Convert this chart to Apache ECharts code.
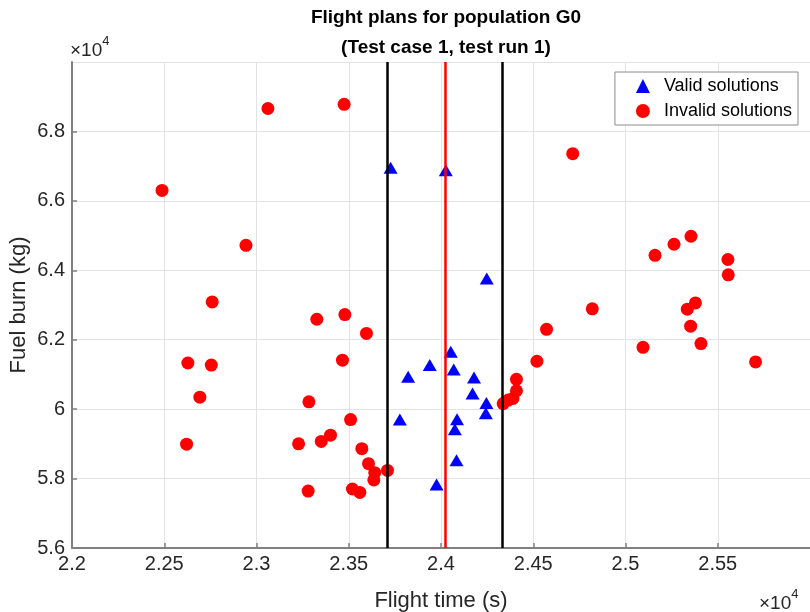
<!DOCTYPE html>
<html lang="en">
<head>
  <meta charset="UTF-8">
  <title>Flight plans for population G0</title>
  <style>
    html, body { margin: 0; padding: 0; background: #fff; }
  </style>
</head>
<body>
  <div id="main" style="width:810px;height:612px"></div>

  <script src="https://cdn.jsdelivr.net/npm/echarts@6/dist/echarts.min.js"></script>

  <script>
    // flight time (s), fuel burn (kg)
    var validTime = [23727, 24026, 24248, 24053, 23939, 24069, 23822, 24179, 24171, 24246, 24243, 23777, 24087, 24075, 24084, 23976]
    var validFuel = [66955, 66880, 63760, 61650, 61270, 61140, 60930, 60910, 60450, 60180, 59880, 59700, 59710, 59420, 58530, 57830]

    var invalidTime = [22488, 23062, 23475, 22943, 22760, 23479, 23327, 23596, 22628, 22755, 23466, 22693, 23284, 22621, 23510, 23228,
      23351, 23401, 23571, 23607, 23641, 23636, 23280, 23520, 23560, 23710, 24714, 25160, 25263, 25355, 25555, 25557,
      24820, 24572, 24520, 24409, 24409, 24390, 24364, 24337, 25335, 25379, 25353, 25095, 25409, 25705]
    var invalidFuel = [66300, 68660, 68780, 64720, 63090, 62725, 62590, 62180, 61330, 61270, 61410, 60345, 60210, 58990, 59700, 59000,
      59070, 59250, 58860, 58430, 58170, 57960, 57640, 57700, 57600, 58236, 67360, 64430, 64750, 64980, 64310, 63870,
      62890, 62300, 61380, 60860, 60530, 60310, 60260, 60160, 62880, 63060, 62390, 61780, 61890, 61360]

    // vertical reference lines (flight time, s)
    var boundLines = [23710, 24333]
    var centreLine = [24024]

    var xTicks = { min: 22000, max: 26000, interval: 500 }
    var yTicks = { min: 56000, max: 70000, interval: 2000 }

    function pairs(xs, ys) {
      return xs.map(function (x, i) { return [x, ys[i]] })
    }
    function scaled(v) {
      return String(parseFloat((v / 1e4).toFixed(2)))
    }

    var axisGray = '#808080'
    var textGray = '#262626'
    var font = 'Liberation Sans'

    var myChart = echarts.init(document.getElementById('main'))

    var expLabel = {
      text: '{a|×10}{b|4}',
      rich: {
        a: { fontFamily: font, fontSize: 19, fill: textGray, padding: [6, 0, 0, 0] },
        b: { fontFamily: font, fontSize: 13, fill: textGray, verticalAlign: 'top' }
      }
    }

    var options = {
      animation: false,
      backgroundColor: '#fff',
      title: {
        text: 'Flight plans for population G0\n(Test case 1, test run 1)',
        left: 441,
        top: -2,
        textAlign: 'center',
        textStyle: {
          fontFamily: font,
          fontSize: 19,
          fontWeight: 'bold',
          color: '#000',
          lineHeight: 30
        }
      },
      legend: {
        orient: 'vertical',
        right: 12,
        top: 72,
        data: ['Valid solutions', 'Invalid solutions'],
        backgroundColor: '#fff',
        borderColor: '#8c8c8c',
        borderWidth: 1,
        borderRadius: 0,
        padding: [5, 6, 5, 21],
        itemGap: 7,
        itemWidth: 14,
        itemHeight: 14,
        textStyle: { fontFamily: font, fontSize: 18, color: '#000', padding: [0, 0, 0, 9] }
      },
      grid: { left: 72, right: 0, top: 62, bottom: 64, outerBoundsMode: 'none', containLabel: false },
      xAxis: {
        type: 'value',
        min: xTicks.min,
        max: xTicks.max,
        interval: xTicks.interval,
        name: 'Flight time (s)',
        nameLocation: 'middle',
        nameGap: 42,
        nameTextStyle: { fontFamily: font, fontSize: 22, color: textGray },
        axisLine: { show: true, onZero: false, lineStyle: { color: axisGray, width: 2 } },
        axisTick: { show: true, inside: true, length: 5, lineStyle: { color: axisGray, width: 1.5 } },
        axisLabel: {
          formatter: scaled,
          showMaxLabel: false,
          margin: 6,
          fontFamily: font,
          fontSize: 20,
          color: textGray
        },
        splitLine: { show: true, lineStyle: { color: '#e3e3e3', width: 1 } }
      },
      yAxis: {
        type: 'value',
        min: yTicks.min,
        max: yTicks.max,
        interval: yTicks.interval,
        name: 'Fuel burn (kg)',
        nameLocation: 'middle',
        nameGap: 42,
        nameMoveOverlap: false,
        nameTextStyle: { fontFamily: font, fontSize: 22, color: textGray },
        axisLine: { show: true, onZero: false, lineStyle: { color: axisGray, width: 2 } },
        axisTick: { show: true, inside: true, length: 5, lineStyle: { color: axisGray, width: 1.5 } },
        axisLabel: {
          formatter: scaled,
          showMaxLabel: false,
          margin: 7,
          fontFamily: font,
          fontSize: 20,
          color: textGray
        },
        splitLine: { show: true, lineStyle: { color: '#e3e3e3', width: 1 } }
      },
      graphic: [
        { type: 'text', left: 70, top: 35, style: expLabel },
        { type: 'text', left: 759, top: 588, style: expLabel }
      ],
      series: [
        {
          name: 'bounds',
          type: 'scatter',
          data: [],
          z: 1,
          markLine: {
            silent: true,
            symbol: 'none',
            label: { show: false },
            lineStyle: { color: '#000', width: 2.5, type: 'solid' },
            data: boundLines.map(function (x) { return { xAxis: x } })
          }
        },
        {
          name: 'centre',
          type: 'scatter',
          data: [],
          z: 1,
          markLine: {
            silent: true,
            symbol: 'none',
            label: { show: false },
            lineStyle: { color: '#ff0000', width: 2.5, type: 'solid' },
            data: centreLine.map(function (x) { return { xAxis: x } })
          }
        },
        {
          name: 'Valid solutions',
          type: 'scatter',
          symbol: 'triangle',
          symbolSize: [14, 12],
          z: 3,
          itemStyle: { color: '#0000ff', opacity: 1 },
          data: pairs(validTime, validFuel)
        },
        {
          name: 'Invalid solutions',
          type: 'scatter',
          symbol: 'circle',
          symbolSize: 13,
          z: 3,
          itemStyle: { color: '#ff0000', opacity: 1 },
          data: pairs(invalidTime, invalidFuel)
        }
      ]
    }
    myChart.setOption(options)
  </script>
</body>
</html>
